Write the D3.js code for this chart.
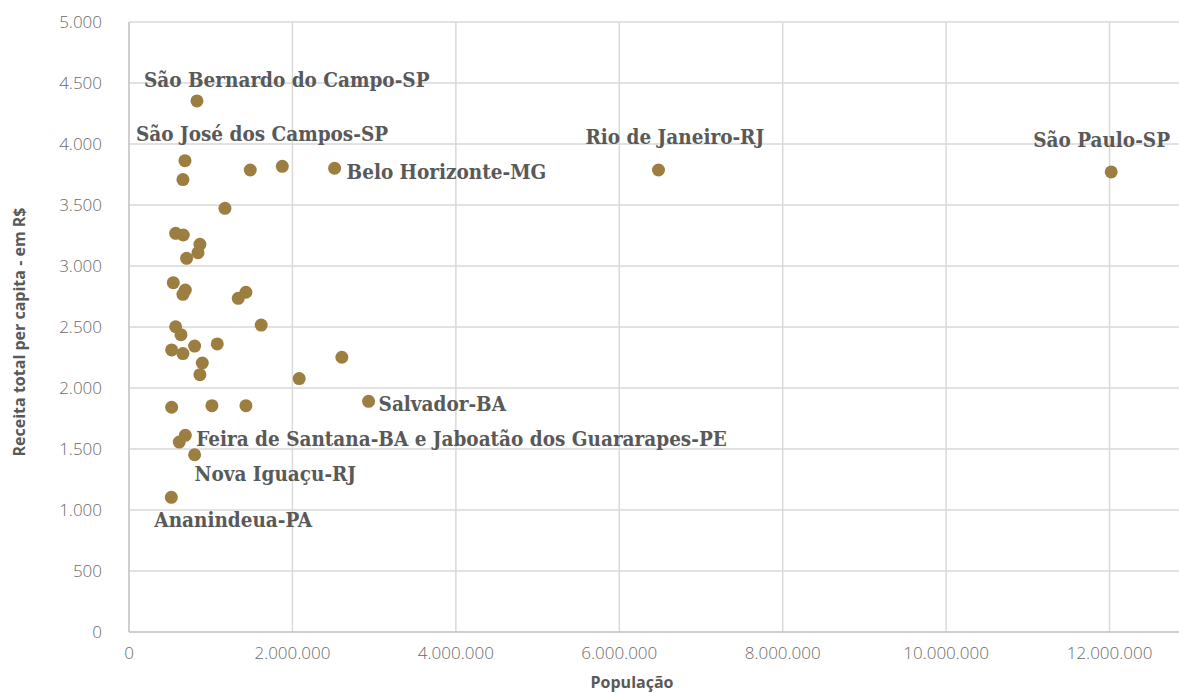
<!DOCTYPE html>
<html><head><meta charset="utf-8">
<script src="https://cdn.jsdelivr.net/npm/d3@7"></script>
<style>
body{margin:0;background:#fff;}
svg{display:block;}
</style></head>
<body><svg id="c" width="1179" height="693"></svg>
<script>
// ---- data ----
const population = [832000, 685000, 660000, 1484000, 1876000, 2516000, 6480000, 12020000,
  1174000, 571000, 664000, 868000, 844000, 705000, 542000, 689000, 660000, 1431000, 1337000,
  1618000, 571000, 636000, 522000, 660000, 803000, 1080000, 897000, 868000, 2605000, 2083000,
  2932000, 522000, 1015000, 1431000, 689000, 615000, 803000, 518000];
const receita = [4353, 3863, 3708, 3787, 3817, 3801, 3787, 3771,
  3473, 3268, 3254, 3178, 3109, 3063, 2863, 2803, 2768, 2785, 2735,
  2516, 2502, 2437, 2312, 2282, 2344, 2361, 2205, 2109, 2252, 2077,
  1891, 1842, 1855, 1855, 1612, 1557, 1453, 1104];
const labelNames = ["São Bernardo do Campo-SP", "São José dos Campos-SP", "Rio de Janeiro-RJ",
  "São Paulo-SP", "Belo Horizonte-MG", "Salvador-BA",
  "Feira de Santana-BA e Jaboatão dos Guararapes-PE", "Nova Iguaçu-RJ", "Ananindeua-PA"];
const labelPoint = [0, 1, 6, 7, 5, 30, 34, 36, 37];
const xTicks = [0, 2000000, 4000000, 6000000, 8000000, 10000000, 12000000];
const yTicks = [0, 500, 1000, 1500, 2000, 2500, 3000, 3500, 4000, 4500, 5000];
const xTitle = "População";
const yTitle = "Receita total per capita - em R$";

// ---- layout ----
const W = 1179, H = 693;
const mL = 129, mR = 1179, mT = 22, mB = 632;
const labelOffsets = [[-53, -21], [-49, -27], [-73, -33], [-78, -32], [12, 3], [10, 2], [11, 3], [0, 19], [-17, 22]];

const svg = d3.select("#c");
const x = d3.scaleLinear().domain([0, 12850000]).range([mL, mR]);
const y = d3.scaleLinear().domain([0, 5000]).range([mB, mT]);
const fmt = v => d3.format(",")(v).replace(/,/g, ".");

// gridlines
svg.append("g").selectAll("line").data(yTicks.filter(d => d > 0)).join("line")
  .attr("x1", mL).attr("x2", mR).attr("y1", d => y(d)).attr("y2", d => y(d))
  .attr("stroke", "#d9d9d9").attr("stroke-width", 1.5);
svg.append("g").selectAll("line").data(xTicks.filter(d => d > 0)).join("line")
  .attr("y1", mT).attr("y2", mB).attr("x1", d => x(d)).attr("x2", d => x(d))
  .attr("stroke", "#d9d9d9").attr("stroke-width", 1.5);

// axes lines
svg.append("line").attr("x1", mL).attr("x2", mR).attr("y1", mB).attr("y2", mB)
  .attr("stroke", "#bfbfbf").attr("stroke-width", 1.5);
svg.append("line").attr("x1", mL).attr("x2", mL).attr("y1", mT).attr("y2", mB)
  .attr("stroke", "#bfbfbf").attr("stroke-width", 1.5);

// tick labels
const tickFont = "'Open Sans', 'Liberation Sans', sans-serif";
svg.append("g").selectAll("text").data(yTicks).join("text")
  .attr("x", 102).attr("y", d => y(d)).attr("dy", "0.36em")
  .attr("text-anchor", "end").attr("font-family", tickFont).attr("font-size", 17)
  .attr("font-weight", 300).attr("fill", "#6a6a6a").text(d => fmt(d));
svg.append("g").selectAll("text").data(xTicks).join("text")
  .attr("x", d => x(d)).attr("y", 653).attr("dy", "0.36em")
  .attr("text-anchor", "middle").attr("font-family", tickFont).attr("font-size", 17)
  .attr("font-weight", 300).attr("fill", "#6a6a6a").text(d => fmt(d));

// titles
svg.append("text").attr("x", 632).attr("y", 688).attr("text-anchor", "middle")
  .attr("font-family", tickFont).attr("font-size", 16).attr("font-weight", 700)
  .attr("fill", "#595959").text(xTitle);
svg.append("text").attr("transform", "translate(20,332) rotate(-90)").attr("dy", "0.35em")
  .attr("text-anchor", "middle").attr("font-family", tickFont).attr("font-size", 15.5)
  .attr("font-weight", 700).attr("fill", "#595959")
  .attr("textLength", 249).attr("lengthAdjust", "spacingAndGlyphs").text(yTitle);

// points
const pts = population.map((p, i) => ({p, r: receita[i]}));
svg.append("g").selectAll("circle").data(pts).join("circle")
  .attr("cx", d => x(d.p)).attr("cy", d => y(d.r)).attr("r", 6.5)
  .attr("fill", "#9c7e41");

// labels
svg.append("g").selectAll("text").data(labelNames).join("text")
  .attr("x", (d, i) => x(pts[labelPoint[i]].p) + labelOffsets[i][0])
  .attr("y", (d, i) => y(pts[labelPoint[i]].r) + labelOffsets[i][1])
  .attr("dy", "0.36em")
  .attr("font-family", "'DejaVu Serif Condensed', 'DejaVu Serif', serif")
  .attr("font-size", 20.5).attr("font-weight", 700).attr("fill", "#595959")
  .text(d => d);
</script></body></html>
